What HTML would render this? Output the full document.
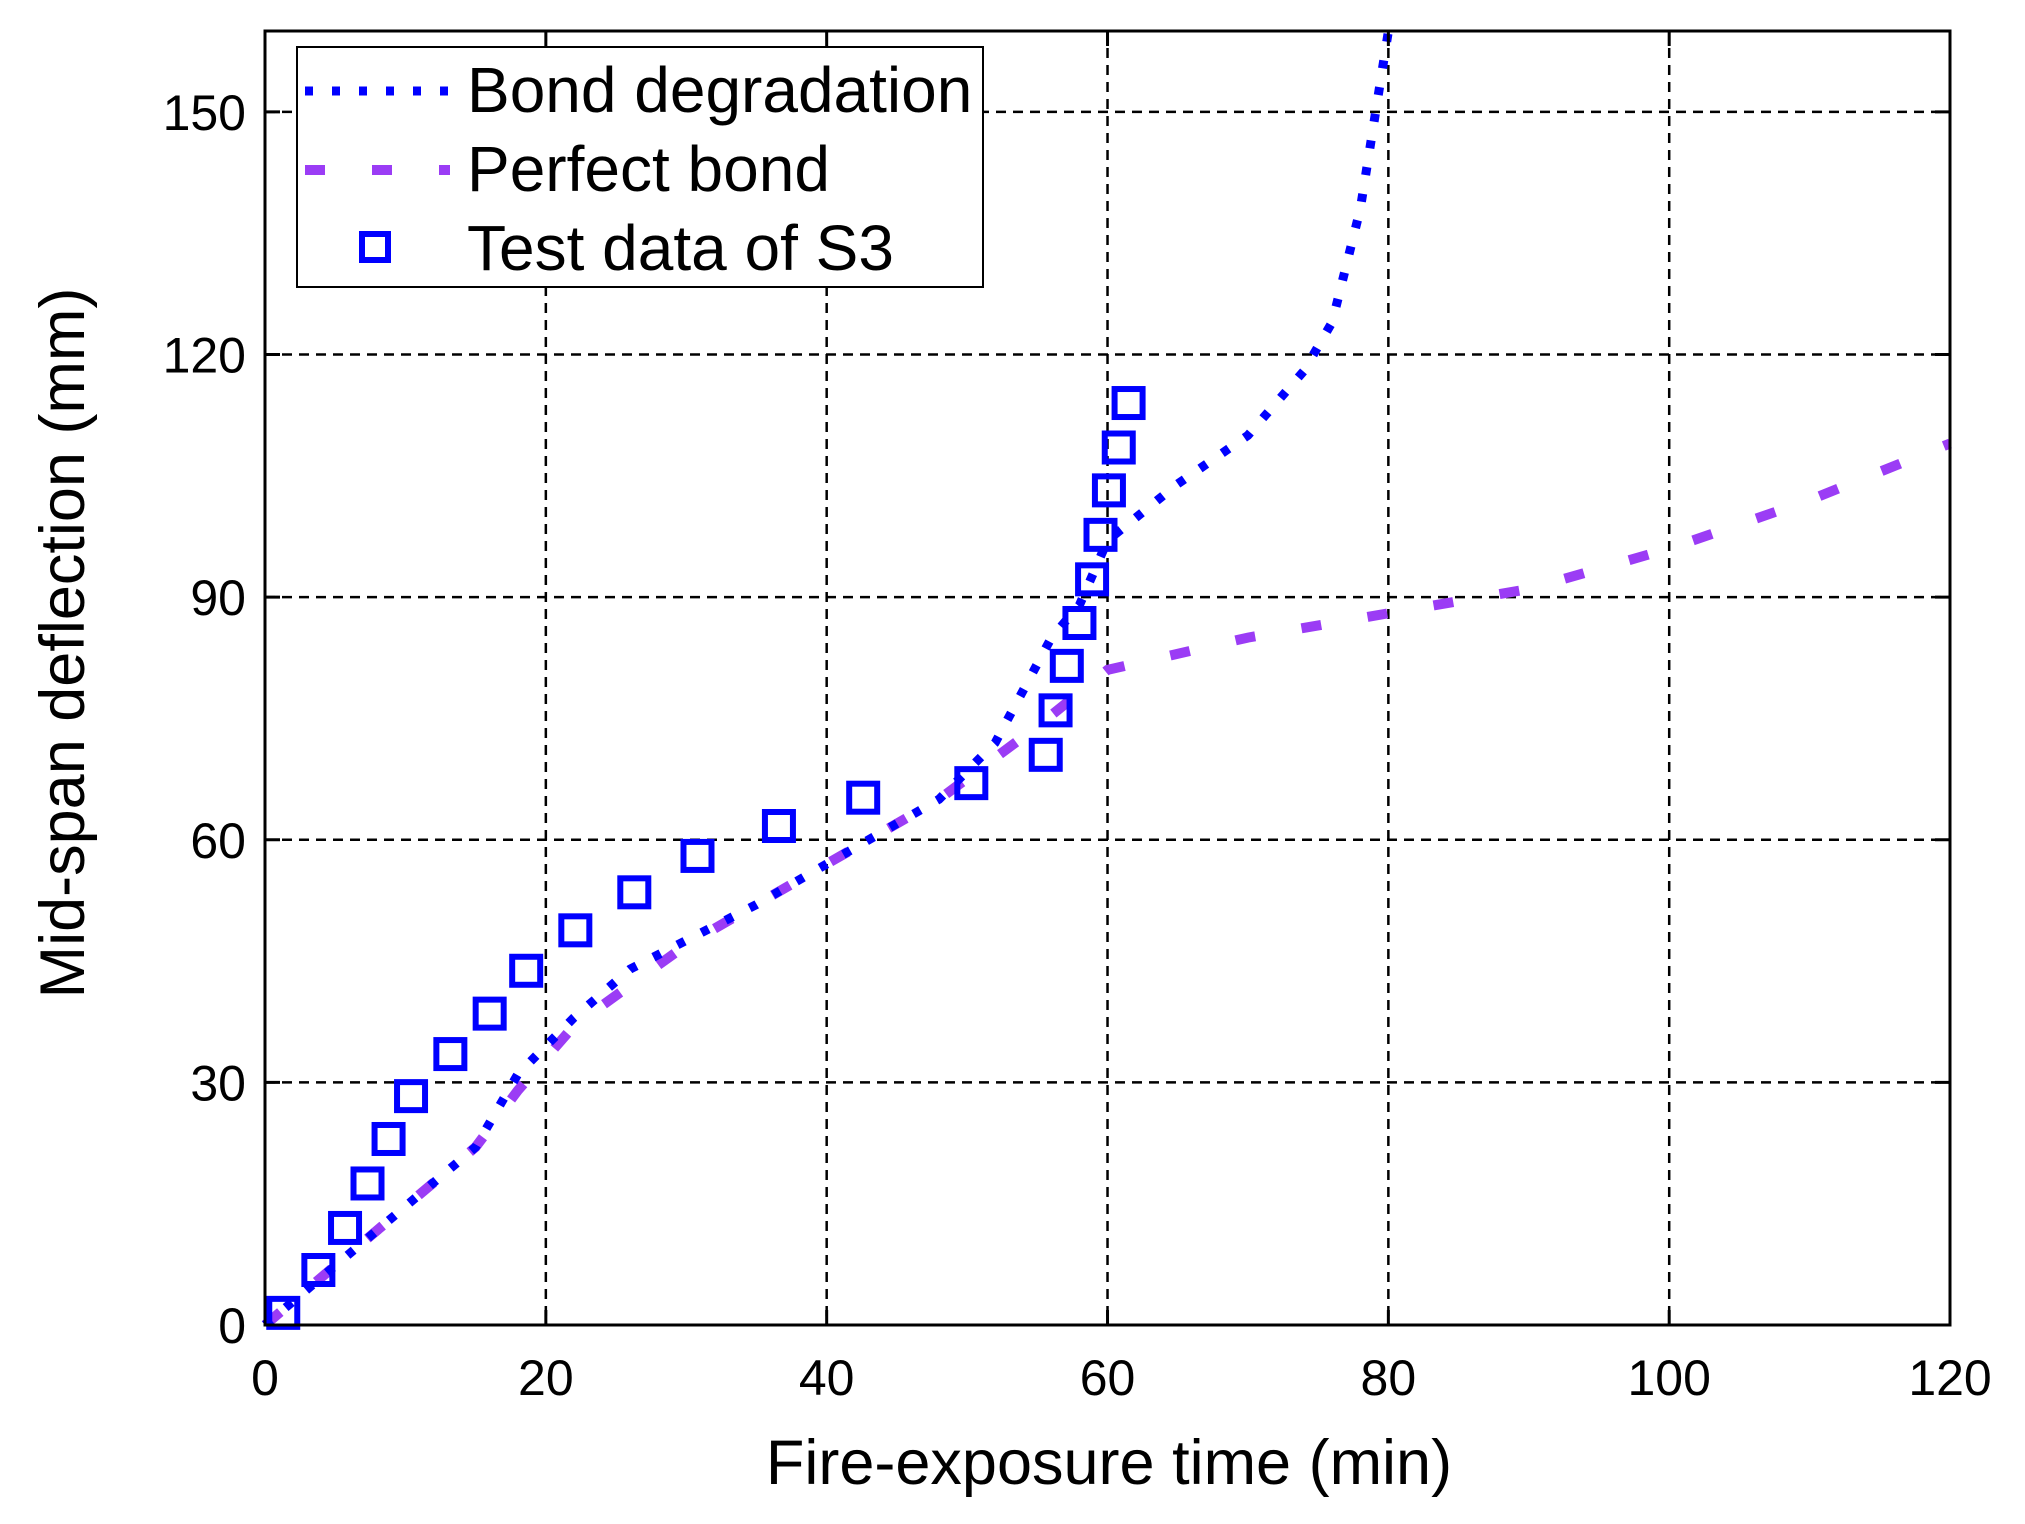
<!DOCTYPE html>
<html><head><meta charset="utf-8"><style>
html,body{margin:0;padding:0;background:#fff;}
svg{display:block;font-family:"Liberation Sans",sans-serif;}
</style></head><body>
<svg id="s" width="2025" height="1524" viewBox="0 0 2025 1524" xmlns="http://www.w3.org/2000/svg">
<rect width="2025" height="1524" fill="#fff"/>
<g id="grid" stroke="#000" stroke-width="2.5" stroke-dasharray="10,7" fill="none"></g>
<g id="ser"></g>
<rect x="265" y="31" width="1685" height="1294" fill="none" stroke="#000" stroke-width="3"/>
<g id="ticks" stroke="#000" stroke-width="3"></g>
<g id="lab" font-size="50" fill="#000"></g>
<text x="1109" y="1484" font-size="63" text-anchor="middle">Fire-exposure time (min)</text>
<text transform="translate(84,643) rotate(-90)" font-size="63" text-anchor="middle">Mid-span deflection (mm)</text>
<rect x="297" y="47" width="686" height="240" fill="#fff" stroke="#000" stroke-width="2"/>
<line x1="305" y1="91" x2="450" y2="91" stroke="#0000ff" stroke-width="9" stroke-dasharray="8,19"/>
<line x1="305" y1="170" x2="450" y2="170" stroke="#9b3cf5" stroke-width="10" stroke-dasharray="20,47"/>
<rect x="362" y="234" width="26" height="26" fill="none" stroke="#0000ff" stroke-width="6"/>
<g font-size="64" fill="#000">
<text x="467" y="112">Bond degradation</text>
<text x="467" y="191">Perfect bond</text>
<text x="467" y="270">Test data of S3</text>
</g>
</svg>
<script>
var NS="http://www.w3.org/2000/svg";
function X(v){return 265+v*14.042;}
function Y(v){return 1325-v*8.0875;}
function el(p,t,a){var e=document.createElementNS(NS,t);for(var k in a)e.setAttribute(k,a[k]);document.getElementById(p).appendChild(e);return e;}
for(var i=1;i<6;i++){var x=X(i*20);el("grid","line",{x1:x,y1:31,x2:x,y2:1325});el("ticks","line",{x1:x,y1:1325,x2:x,y2:1310});el("ticks","line",{x1:x,y1:31,x2:x,y2:46});}
for(var j=1;j<6;j++){var y=Y(j*30);el("grid","line",{x1:265,y1:y,x2:1950,y2:y});el("ticks","line",{x1:265,y1:y,x2:280,y2:y});el("ticks","line",{x1:1950,y1:y,x2:1935,y2:y});}
for(var i=0;i<7;i++){var t=el("lab","text",{x:X(i*20),y:1395,"text-anchor":"middle"});t.textContent=i*20;}
for(var j=0;j<6;j++){var t=el("lab","text",{x:246,y:Y(j*30)+18,"text-anchor":"end"});t.textContent=j*30;}
function path(pts){return pts.map(function(p,i){return (i?"L":"M")+X(p[0]).toFixed(1)+","+Y(p[1]).toFixed(1);}).join("");}
var pb=[[0,0],[15,22],[18,29],[22,37],[30,47],[40,57],[48,65],[55,74],[60,81],[70,85],[80,88],[90,91],[100,96],[110,102],[120,109]];
var bd=[[0,0],[15,22],[18,31],[22,38],[26,44],[35,52],[42,59],[48,65],[52,72],[56,85],[58,89],[60,97],[65,104],[70,110],[74,118],[76,124],[78,138],[80,160]];
el("ser","path",{d:path(pb),fill:"none",stroke:"#9b3cf5","stroke-width":10,"stroke-dasharray":"20,47"});
el("ser","path",{d:path(bd),fill:"none",stroke:"#0000ff","stroke-width":9,"stroke-dasharray":"8,19"});
var sq=[[1.3,1.5],[3.8,6.8],[5.7,12],[7.3,17.5],[8.8,23],[10.4,28.3],[13.2,33.5],[16,38.5],[18.6,43.8],[22.1,48.8],[26.3,53.5],[30.8,58],[36.6,61.7],[42.6,65.2],[50.3,67],[55.6,70.5],[56.3,76],[57.1,81.5],[58,86.8],[58.9,92.2],[59.5,97.7],[60.1,103.2],[60.8,108.5],[61.5,114]];
sq.forEach(function(p){el("ser","rect",{x:X(p[0])-14,y:Y(p[1])-14,width:28,height:28,fill:"none",stroke:"#0000ff","stroke-width":6});});
</script>
</body></html>
